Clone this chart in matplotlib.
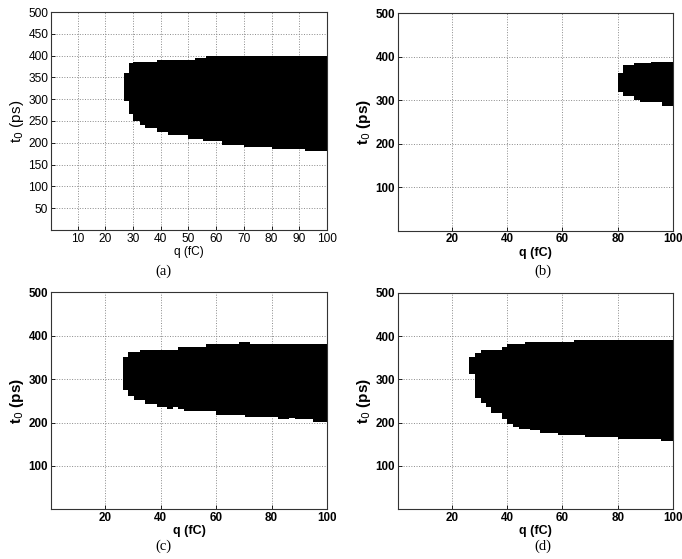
import matplotlib
matplotlib.use("Agg")
import matplotlib.pyplot as plt

# ---- data: step boundaries of the black region (q edges in fC, t0 in ps) ----
a_top_q = [26.6, 28.4, 30.0, 38.5, 52.5, 56.5, 100]
a_top_t = [360, 383, 385, 390, 395, 400]
a_bot_q = [26.6, 28.4, 30.0, 32.4, 34.4, 38.5, 42.5, 50.0, 55.4, 62.0, 70.0, 80.0, 92.0, 100]
a_bot_t = [296, 266, 250, 241, 233, 225, 218, 209, 203, 196, 191, 186, 181]

b_top_q = [80.0, 82.0, 86.0, 92.0, 100]
b_top_t = [362, 381, 385, 389]
b_bot_q = [80.0, 82.0, 86.0, 88.0, 96.0, 100]
b_bot_t = [319, 310, 301, 296, 286]

c_top_q = [26.5, 28.3, 32.5, 46.3, 56.5, 68.3, 72.2, 100]
c_top_t = [351, 362, 366, 375, 380, 386, 380]
c_bot_q = [26.5, 28.3, 30.3, 34.3, 38.5, 42.3, 44.5, 46.3, 48.4, 60.1, 70.4, 82.4, 86.4, 88.4, 95.0, 100]
c_bot_t = [276, 261, 251, 242, 235, 232, 235, 231, 226, 217, 212, 207, 210, 207, 201]

d_top_q = [26.3, 28.3, 30.4, 38.3, 40.0, 46.4, 64.1, 100]
d_top_t = [352, 361, 367, 375, 382, 387, 391]
d_bot_q = [26.3, 28.3, 30.4, 32.3, 34.3, 38.3, 40.0, 42.2, 44.3, 48.2, 51.8, 58.4, 68.1, 80.1, 95.8, 100]
d_bot_t = [313, 256, 246, 237, 223, 208, 196, 191, 186, 183, 177, 172, 168, 162, 157]

xticks_a = [10, 20, 30, 40, 50, 60, 70, 80, 90, 100]
yticks_a = [50, 100, 150, 200, 250, 300, 350, 400, 450, 500]
xticks_bcd = [20, 40, 60, 80, 100]
yticks_bcd = [100, 200, 300, 400, 500]
captions = ["(a)", "(b)", "(c)", "(d)"]


def step_polygon(top_q, top_t, bot_q, bot_t):
    xs, ys = [], []
    for i, t in enumerate(top_t):
        xs += [top_q[i], top_q[i + 1]]
        ys += [t, t]
    for i in range(len(bot_t) - 1, -1, -1):
        xs += [bot_q[i + 1], bot_q[i]]
        ys += [bot_t[i], bot_t[i]]
    return xs, ys


fig = plt.figure(figsize=(6.82, 5.59), dpi=100)

panels = [
    ([0.0748, 0.5886, 0.4047, 0.3899], (a_top_q, a_top_t, a_bot_q, a_bot_t), xticks_a, yticks_a, "normal"),
    ([0.5831, 0.5873, 0.4037, 0.3889], (b_top_q, b_top_t, b_bot_q, b_bot_t), xticks_bcd, yticks_bcd, "bold"),
    ([0.0748, 0.0889, 0.4047, 0.3882], (c_top_q, c_top_t, c_bot_q, c_bot_t), xticks_bcd, yticks_bcd, "bold"),
    ([0.5831, 0.0889, 0.4037, 0.3875], (d_top_q, d_top_t, d_bot_q, d_bot_t), xticks_bcd, yticks_bcd, "bold"),
]

caption_pos = [(163 / 682, 1 - 271 / 559), (542.7 / 682, 1 - 271 / 559),
               (163 / 682, 1 - 546 / 559), (542.7 / 682, 1 - 546 / 559)]

for k, (rect, bnd, xt, yt, weight) in enumerate(panels):
    ax = fig.add_axes(rect)
    ax.set_axisbelow(True)
    xs, ys = step_polygon(*bnd)
    ax.fill(xs, ys, color="black", linewidth=0, zorder=2)
    ax.set_xlim(0.4, 100)
    ax.set_ylim(0, 500)
    ax.set_xticks(xt)
    ax.set_yticks(yt)
    ax.grid(True, color="#8a8a8a", linestyle=":", linewidth=0.7)
    tsize = 8.6 if weight == "normal" else 8.4
    ax.tick_params(direction="in", length=3, width=0.6, labelsize=tsize, pad=2, colors="black")
    for lab in ax.get_xticklabels() + ax.get_yticklabels():
        lab.set_fontfamily("Liberation Sans")
        lab.set_fontweight(weight)
    for sp in ax.spines.values():
        sp.set_linewidth(0.8)
        sp.set_color("#333333")
    xl_size = 8.6 if weight == "normal" else 9
    ax.set_xlabel("q (fC)", fontsize=xl_size, fontweight=weight, family="Liberation Sans", labelpad=1)
    ax.set_ylabel(r"t$_0$ (ps)", fontsize=11, fontweight=weight, family="Liberation Sans", labelpad=2)
    fig.text(caption_pos[k][0], caption_pos[k][1], captions[k], ha="center", va="center",
             fontsize=10.5, family="Liberation Serif")

fig.savefig("out.png", dpi=100)
